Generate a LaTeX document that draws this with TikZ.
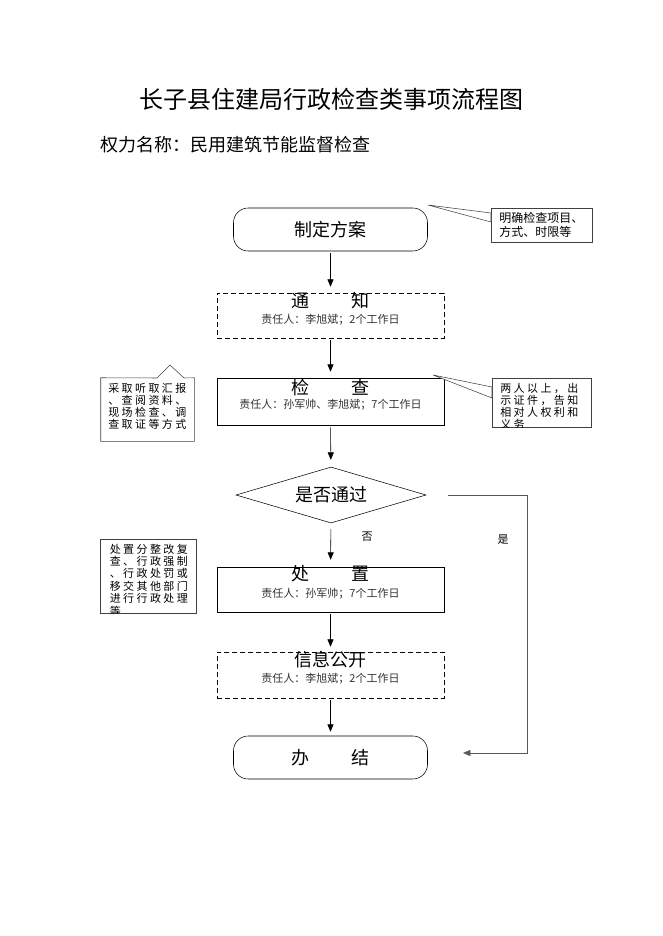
\documentclass[tikz,border=0pt]{standalone}
\usepackage{fontspec}
\setmainfont{Noto Sans CJK SC}
\newfontfamily\notefont[LetterSpace=22]{Noto Sans CJK SC}
\usetikzlibrary{shapes.geometric,arrows.meta}

\begin{document}
\begin{tikzpicture}[x=0.75pt,y=-0.75pt,
    mainbox/.style={draw,minimum width=170.25pt,minimum height=33.75pt,inner sep=0pt},
    endbox/.style={draw,rounded corners=11pt,minimum width=145.5pt,minimum height=32.25pt,inner sep=0pt,font=\fontsize{13.5pt}{16pt}\selectfont},
    headtext/.style={inner sep=0pt,font=\fontsize{13.5pt}{16pt}\selectfont},
    subtext/.style={inner sep=0pt,text=black!80,font=\fontsize{8.25pt}{10pt}\selectfont},
    notebox/.style={draw=black!75,inner sep=0pt},
    notetext/.style={inner sep=0pt,align=left,anchor=north west,font=\notefont\fontsize{8.25pt}{9pt}\selectfont},
    flowarrow/.style={-{Triangle[length=5.5pt,width=4.5pt]},shorten <=1.5pt,shorten >=4.5pt}]
    \useasboundingbox (0,0) rectangle (662,936);
    % title
    \node[inner sep=0pt,font=\fontsize{18pt}{20pt}\selectfont] (title) at (331,99) {长子县住建局行政检查类事项流程图};
    \node[inner sep=0pt,anchor=west,font=\fontsize{13.5pt}{16pt}\selectfont] (power) at (100,145) {权力名称：民用建筑节能监督检查};
    % main flow
    \node[endbox] (plan) at (330.5,229.5) {制定方案};
    \node[mainbox,dash pattern=on 3.5pt off 2.5pt] (notify) at (330.5,315.5) {};
    \node[headtext] (notifyH) at (330.5,301) {通\hspace{31.5pt}知};
    \node[subtext] (notifyS) at (330.5,320) {责任人：李旭斌；2个工作日};
    \node[mainbox,minimum height=35.25pt] (check) at (330.5,401.5) {};
    \node[headtext] (checkH) at (330.5,388) {检\hspace{31.5pt}查};
    \node[subtext] (checkS) at (330.5,405) {责任人：孙军帅、李旭斌；7个工作日};
    \node[draw,diamond,aspect=3.4,minimum width=142.5pt,minimum height=42pt,inner sep=0pt,font=\fontsize{13.5pt}{16pt}\selectfont] (pass) at (331,495) {是否通过};
    \node[mainbox] (handle) at (330.5,589.5) {};
    \node[headtext] (handleH) at (330.5,574) {处\hspace{31.5pt}置};
    \node[subtext] (handleS) at (330.5,594) {责任人：孙军帅；7个工作日};
    \node[mainbox,dash pattern=on 3.5pt off 2.5pt,minimum height=34.5pt] (publish) at (330.5,675) {};
    \node[headtext] (publishH) at (330.5,660) {信息公开};
    \node[subtext] (publishS) at (330.5,679) {责任人：李旭斌；2个工作日};
    \node[endbox] (done) at (330.5,757.5) {办\hspace{31.5pt}结};
    \draw[flowarrow] (plan) -- (notify);
    \draw[flowarrow] (notify) -- (check);
    \draw[flowarrow,shorten >=5.25pt] (check) -- (pass);
    \draw[flowarrow,shorten <=4.5pt,shorten >=5.25pt] (pass) -- (handle);
    \draw[flowarrow,shorten >=3.75pt] (handle) -- (publish);
    \draw[flowarrow,shorten >=3pt] (publish) -- (done);
    \node[subtext,text=black] (no) at (367,537) {否};
    % yes branch
    \coordinate (yesTop) at (527,495);
    \coordinate (yesBot) at (527,753);
    \coordinate (yesEnd) at (463,753);
    \draw[black!65,-{Triangle[length=5.5pt,width=4.5pt]}] ([xshift=16.5pt]pass.east) -- (yesTop) -- (yesBot) -- (yesEnd);
    \node[subtext,text=black] (yes) at (503,540) {是};
    % notes
    \coordinate (planTip) at (428,205);
    \coordinate (checkTip) at (433,375);
    \node[notebox,minimum width=75.75pt,minimum height=25.5pt] (noteA) at (541.5,225) {};
    \filldraw[black!75,fill=white] (planTip) -- (491,213) -- (491,222) -- cycle;
    \node[inner sep=0pt,align=left,anchor=north west,font=\fontsize{9pt}{10.5pt}\selectfont] (noteAT) at (499,212) {明确检查项目、\\方式、时限等};
    \node[notebox,minimum width=74.25pt,minimum height=36.75pt] (noteB) at (541.5,402.5) {};
    \filldraw[black!75,fill=white] (checkTip) -- (492,387) -- (492,398) -- cycle;
    \begin{scope}
        \clip (noteB.south west) rectangle (noteB.north east);
        \node[notetext,font=\notefont\fontsize{8.25pt}{9.1pt}\selectfont] (noteBT) at (500,383) {两人以上，出\\示证件，告知\\相对人权利和\\义务};
    \end{scope}
    \node[inner sep=0pt,minimum width=69.75pt,minimum height=47.25pt] (noteC) at (147.5,409.5) {};
    \draw[black!75] (noteC.north west) -- (157,378) -- (170,365) -- (184,378) -- (noteC.north east) -- (noteC.south east) -- (noteC.south west) -- cycle;
    \node[notetext,font=\notefont\fontsize{8.25pt}{9.2pt}\selectfont] (noteCT) at (108,382.5) {采取听取汇报\\、查阅资料、\\现场检查、调\\查取证等方式};
    \node[notebox,minimum width=72pt,minimum height=55.5pt] (noteD) at (148,576) {};
    \begin{scope}
        \clip (noteD.south west) rectangle (noteD.north east);
        \node[notetext,font=\notefont\fontsize{8.25pt}{9.3pt}\selectfont] (noteDT) at (109.5,543.5) {处置分整改复\\查、行政强制\\、行政处罚或\\移交其他部门\\进行行政处理\\等};
    \end{scope}
\end{tikzpicture}
\end{document}
